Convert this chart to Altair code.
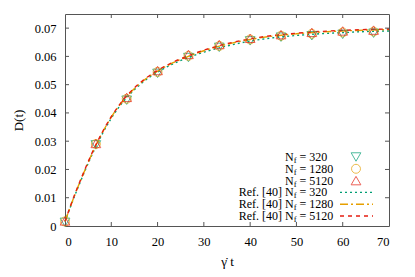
import altair as alt
import pandas as pd

# ---- data ----
t_sim = [0, 6.67, 13.33, 20, 26.67, 33.33, 40, 46.67, 53.33, 60, 66.67]
d_320 = [0.0013, 0.0287, 0.0445, 0.0540, 0.0596, 0.0632, 0.0655, 0.0668, 0.0673, 0.0678, 0.0682]
d_1280 = [0.0016, 0.0290, 0.0450, 0.0545, 0.0602, 0.0637, 0.0660, 0.0673, 0.0680, 0.0685, 0.0688]
d_5120 = [0.0018, 0.0292, 0.0455, 0.0550, 0.0607, 0.0642, 0.0664, 0.0677, 0.0685, 0.0690, 0.0693]

t_ref = [0, 2, 4, 6, 8, 10, 12, 14, 17, 20, 23, 26, 30, 35, 40, 45, 50, 55, 60, 65, 70]
ref_320 = [0.0015, 0.0103, 0.0183, 0.0258, 0.0324, 0.0381, 0.0428, 0.0466, 0.0511, 0.0544, 0.0571, 0.0592, 0.0615, 0.0637, 0.0654, 0.0666, 0.0674, 0.0680, 0.0684, 0.0688, 0.0690]
ref_1280 = [0.0016, 0.0105, 0.0186, 0.0262, 0.0328, 0.0385, 0.0432, 0.0470, 0.0515, 0.0548, 0.0575, 0.0596, 0.0620, 0.0643, 0.0660, 0.0672, 0.0680, 0.0686, 0.0690, 0.0693, 0.0695]
ref_5120 = [0.0017, 0.0107, 0.0188, 0.0264, 0.0330, 0.0387, 0.0434, 0.0472, 0.0517, 0.0550, 0.0577, 0.0598, 0.0622, 0.0645, 0.0662, 0.0674, 0.0682, 0.0688, 0.0692, 0.0695, 0.0697]

x_ticks = [0, 10, 20, 30, 40, 50, 60, 70]
y_ticks = [0, 0.01, 0.02, 0.03, 0.04, 0.05, 0.06, 0.07]

sim_labels = ["320", "1280", "5120"]

# ---- styles ----
W, H = 324, 212
FONT = "Liberation Serif"
BORDER = "#555555"
C_GREEN, C_ORANGE, C_RED = "#009e73", "#e69f00", "#e51e10"

xs = alt.Scale(domain=[0, 70], nice=False)
ys = alt.Scale(domain=[0, 0.075], nice=False)

x_axis = alt.Axis(values=x_ticks, title="γ̇ t", titlePadding=8, labelOverlap=False)
y_axis = alt.Axis(values=y_ticks, title="D(t)", titlePadding=9, labelOverlap=False,
                  labelExpr="datum.value == 0 ? '0' : format(datum.value, '.2f')")

layers = []

# reference lines
for vals, col, dash in [(ref_320, C_GREEN, [2, 3]), (ref_1280, C_ORANGE, [8, 3, 2, 3]),
                        (ref_5120, C_RED, [4, 4])]:
    df = pd.DataFrame({"t": t_ref, "d": vals})
    layers.append(alt.Chart(df).mark_line(color=col, strokeDash=dash, strokeWidth=1.4,
                                          interpolate="monotone").encode(
        x=alt.X("t:Q", scale=xs, axis=x_axis), y=alt.Y("d:Q", scale=ys, axis=y_axis)))

# simulation points
for vals, col, shape, size in [(d_320, C_GREEN, "triangle-down", 95), (d_1280, C_ORANGE, "circle", 80),
                               (d_5120, C_RED, "triangle-up", 95)]:
    df = pd.DataFrame({"t": t_sim, "d": vals})
    layers.append(alt.Chart(df).mark_point(color=col, shape=shape, size=size, filled=False,
                                           strokeWidth=1).encode(
        x=alt.X("t:Q", scale=xs, axis=x_axis), y=alt.Y("d:Q", scale=ys, axis=y_axis)))

# inward ticks (gnuplot style, mirrored)
TL = 4
xt = pd.DataFrame({"v": x_ticks[1:-1]})
yt = pd.DataFrame({"v": y_ticks[1:]})
layers.append(alt.Chart(xt).mark_rule(color=BORDER).encode(
    x=alt.X("v:Q", scale=xs, axis=x_axis), y=alt.value(H), y2=alt.value(H - TL)))
layers.append(alt.Chart(xt).mark_rule(color=BORDER).encode(
    x=alt.X("v:Q", scale=xs, axis=x_axis), y=alt.value(0), y2=alt.value(TL)))
layers.append(alt.Chart(yt).mark_rule(color=BORDER).encode(
    y=alt.Y("v:Q", scale=ys, axis=y_axis), x=alt.value(0), x2=alt.value(TL)))
layers.append(alt.Chart(yt).mark_rule(color=BORDER).encode(
    y=alt.Y("v:Q", scale=ys, axis=y_axis), x=alt.value(W), x2=alt.value(W - TL)))

# legend
one = pd.DataFrame({"a": [0]})
row_y = [143 + 11.8 * i for i in range(6)]
N_X = 220
SYM_X = 291
LINE_X0, LINE_X1 = 275, 308
entries = []
for i, lab in enumerate(sim_labels):
    entries.append((row_y[i], False, lab))
for i, lab in enumerate(sim_labels):
    entries.append((row_y[3 + i], True, lab))

for yv, is_ref, lab in entries:
    if is_ref:
        layers.append(alt.Chart(one).mark_text(text="Ref. [40]", font=FONT, fontSize=12, align="right",
                                               baseline="middle", color="black").encode(
            x=alt.value(N_X - 3), y=alt.value(yv)))
    layers.append(alt.Chart(one).mark_text(text="N", font=FONT, fontSize=12, align="left",
                                           baseline="middle", color="black").encode(
        x=alt.value(N_X), y=alt.value(yv)))
    layers.append(alt.Chart(one).mark_text(text="f", font=FONT, fontSize=8.5, align="left",
                                           baseline="middle", color="black").encode(
        x=alt.value(N_X + 8.8), y=alt.value(yv + 3)))
    layers.append(alt.Chart(one).mark_text(text="= " + lab, font=FONT, fontSize=12, align="left",
                                           baseline="middle", color="black").encode(
        x=alt.value(N_X + 14.5), y=alt.value(yv)))

for yv, (col, shape, size) in zip(row_y[:3], [(C_GREEN, "triangle-down", 95), (C_ORANGE, "circle", 80),
                                              (C_RED, "triangle-up", 95)]):
    layers.append(alt.Chart(one).mark_point(color=col, shape=shape, size=size, filled=False,
                                            strokeWidth=1).encode(x=alt.value(SYM_X), y=alt.value(yv)))
for yv, (col, dash) in zip(row_y[3:], [(C_GREEN, [2, 3]), (C_ORANGE, [8, 3, 2, 3]), (C_RED, [4, 4])]):
    layers.append(alt.Chart(one).mark_rule(color=col, strokeDash=dash, strokeWidth=1.4).encode(
        x=alt.value(LINE_X0), x2=alt.value(LINE_X1), y=alt.value(yv)))

chart = alt.layer(*layers).properties(
    width=W, height=H, autosize="none", background="white",
    padding={"left": 57, "top": 6, "right": 18, "bottom": 43},
).configure_view(stroke=BORDER, strokeWidth=1).configure_axis(
    tickSize=0, domain=False, grid=False, labelOverlap=False,
    labelFont=FONT, labelFontSize=12.5, labelColor="black", labelPadding=9,
    titleFont=FONT, titleFontSize=13, titleFontWeight="normal", titleColor="black",
)

chart.save("out.html", embed_options={"renderer": "svg", "actions": False})
